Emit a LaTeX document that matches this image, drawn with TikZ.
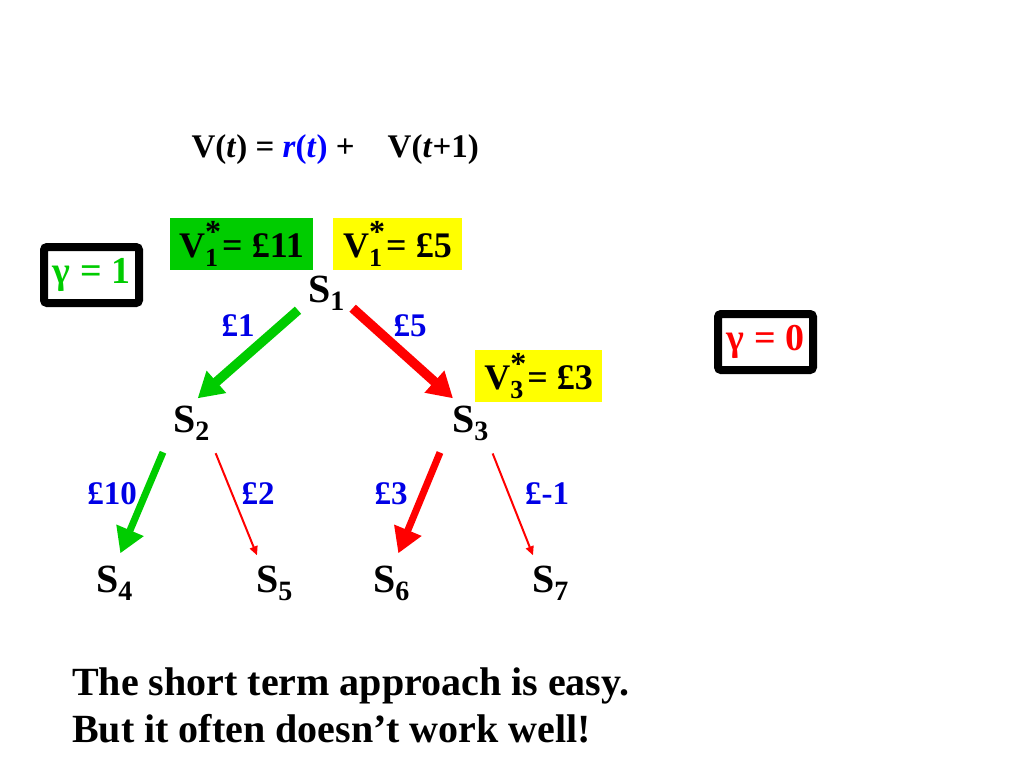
\documentclass[tikz,border=0pt]{standalone}
\usepackage{fontspec}
\setmainfont{Liberation Serif}
\usetikzlibrary{arrows.meta,positioning}
\definecolor{pgreen}{RGB}{0,204,0}
\definecolor{pblue}{RGB}{0,0,230}
\definecolor{pyellow}{RGB}{255,255,0}
\newcommand{\vopt}[2]{V\rlap{\raisebox{-0.25em}{\fontsize{26}{26}\selectfont #1}}\raisebox{0.4em}{\fontsize{32}{32}\selectfont *}\kern1pt= £#2}
\newcommand{\st}[1]{S\raisebox{-8pt}{\fontsize{28}{28}\selectfont #1}}

\begin{document}
\begin{tikzpicture}[x=1pt, y=-1pt,
        state/.style={font=\fontsize{40}{44}\selectfont\bfseries, inner sep=0pt, anchor=base west},
        reward/.style={font=\fontsize{33}{36}\selectfont\bfseries, text=pblue},
        vbox/.style={font=\fontsize{36}{40}\selectfont\bfseries, minimum height=52pt, inner sep=0pt},
        gbox/.style={draw=black, line width=8pt, rounded corners=3pt, fill=white, minimum width=95pt, minimum height=56pt, font=\fontsize{38}{40}\selectfont\bfseries},
        best/.style={-{Triangle[length=25pt,width=28pt]}, line width=9.5pt},
        other/.style={-{Triangle[length=9pt,width=8pt]}, line width=2pt, red}]

        \useasboundingbox (0,0) rectangle (1024,768);

        \node[anchor=west, font=\fontsize{33}{36}\selectfont\bfseries] (eq) at (188,150)
            {V(\textit{t}) = \textcolor{blue}{\textit{r}(\textit{t})} +\quad V(\textit{t}+1)};

        \node[gbox, text=pgreen] (gam1) at (91.5,275) {γ = 1};
        \node[gbox, text=red] (gam0) at (765.5,342) {γ = 0};

        \node[vbox, fill=pgreen, minimum width=143pt] (v1long) at (241.5,244) {\vopt{1}{11}};
        \node[vbox, fill=pyellow, minimum width=129pt] (v1short) at (397.5,244) {\vopt{1}{5}};
        \node[vbox, fill=pyellow, minimum width=127pt] (v3) at (538.5,376) {\vopt{3}{3}};

        \node[state] (s1) at (308,302) {\st{1}};
        \node[state] (s2) at (173,432) {\st{2}};
        \node[state] (s3) at (452,432) {\st{3}};
        \node[state] (s4) at (96,592) {\st{4}};
        \node[state] (s5) at (256,592) {\st{5}};
        \node[state] (s6) at (373,592) {\st{6}};
        \node[state] (s7) at (532,592) {\st{7}};

        \draw[best, pgreen] ([xshift=-10pt]s1.south west) -- ([xshift=-12pt,yshift=7pt]s2.north east);
        \draw[best, red] ([xshift=8pt,yshift=2pt]s1.south east) -- ([xshift=1pt,yshift=7pt]s3.north west);
        \draw[best, pgreen, line width=7pt] ([xshift=-10pt,yshift=-12pt]s2.south west) -- ([xshift=6pt,yshift=12pt]s4.north);
        \draw[other] ([xshift=6pt,yshift=-13pt]s2.south east) -- ([xshift=1pt,yshift=10pt]s5.north west);
        \draw[best, red, line width=7pt] ([xshift=-12pt,yshift=-12pt]s3.south west) -- ([xshift=7pt,yshift=12pt]s6.north);
        \draw[other] ([xshift=4pt,yshift=-13pt]s3.south east) -- ([xshift=1pt,yshift=10pt]s7.north west);

        \node[reward] (r12) at (238,326) {£1};
        \node[reward] (r13) at (410,326) {£5};
        \node[reward] (r24) at (112,494) {£10};
        \node[reward] (r25) at (258,494) {£2};
        \node[reward] (r36) at (391,494) {£3};
        \node[reward] (r37) at (547,494) {£-1};

        \node[anchor=base west, align=left, inner sep=0pt, font=\fontsize{40}{47}\selectfont\bfseries] (note) at (72,742)
            {The short term approach is easy.\\But it often doesn’t work well!};
    \end{tikzpicture}
\end{document}
